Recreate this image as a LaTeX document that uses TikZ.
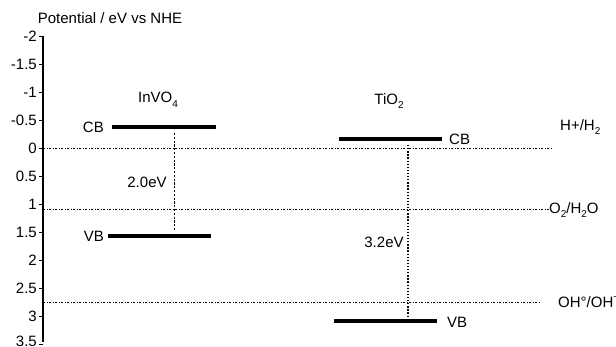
\documentclass[tikz,border=0pt]{standalone}
\usepackage{fontspec}
\setmainfont{Liberation Sans}
\newcommand{\subs}[1]{\raisebox{-0.3em}{\fontsize{10}{11}\selectfont #1}}
\newcommand{\sups}[1]{\raisebox{0.45em}{\fontsize{10}{11}\selectfont #1}}
\begin{document}
\begin{tikzpicture}[x=1pt,y=-1pt,
  font=\fontsize{15}{17}\selectfont,
  band/.style={line width=3.6pt},
  refline/.style={line width=0.8pt, dash pattern=on 2pt off 1.6pt on 0.8pt off 1.6pt},
  gapdash/.style={line width=0.8pt, dash pattern=on 2.2pt off 1.6pt},
  gapdot/.style={line width=1.4pt, dash pattern=on 1.3pt off 1.8pt},
  lbl/.style={inner sep=0pt},
  ticklbl/.style={inner sep=0pt, anchor=east}]
\useasboundingbox (0,0) rectangle (616,346);

% title
\node[lbl] (title) at (110,18) {Potential / eV vs NHE};

% axis
\coordinate (atop) at (43,36);
\coordinate (abot) at (43,342);
\draw[line width=1.2pt] (atop) -- (abot);
\foreach \v/\t [count=\i] in {-2/-2,-1.5/-1.5,-1/-1,-0.5/-0.5,0/0,0.5/0.5,1/1,1.5/1.5,2/2,2.5/2.5,3/3,3.5/3.5}{
  \coordinate (tk\i) at (43,{148+56*\v});
  \draw[line width=1pt] (tk\i) -- ++(-4.5,0);
}
\foreach \v/\t [count=\i] in {-2/-2,-1.5/-1.5,-1/-1,-0.5/-0.5,0/0,0.5/0.5,1/1,1.5/1.5,2/2,2.5/2.5,3/3}{
  \node[ticklbl] (tl\i) at ([xshift=-6pt]tk\i) {\t};
}
\node[ticklbl] (tl12) at ([xshift=-6pt,yshift=3pt]tk12) {3.5};

% reference lines
\coordinate (h0) at (43,148);
\coordinate (h1) at (552,148);
\draw[refline] (h0) -- (h1);
\node[lbl, anchor=west] (hh) at (560,127) {H+/H\subs{2}};

\coordinate (o0) at (43,209);
\node[lbl, anchor=west] (oo) at (549,210) {O\subs{2}/H\subs{2}O};
\draw[refline] (o0) -- (oo.west |- o0);

\coordinate (w0) at (43,302);
\coordinate (w1) at (541,302);
\draw[refline] (w0) -- (w1);
\node[lbl, anchor=west] (ww) at (558,302) {OH\textdegree/OH\sups{\textminus}};

% InVO4
\node[lbl] (inv) at (158,100) {InVO\subs{4}};
\coordinate (icb0) at (112,127);
\coordinate (icb1) at (216,127);
\draw[band] (icb0) -- (icb1);
\node[lbl, anchor=east] (icbl) at (104,127) {CB};
\coordinate (ivb0) at (108,236);
\coordinate (ivb1) at (211,236);
\draw[band] (ivb0) -- (ivb1);
\node[lbl, anchor=east] (ivbl) at (104,236) {VB};
\coordinate (ig0) at (174,133);
\coordinate (ig1) at (174,231);
\draw[gapdash] (ig0) -- (ig1);
\node[lbl] (igl) at (147,182) {2.0eV};

% TiO2
\node[lbl] (tio) at (389,101) {TiO\subs{2}};
\coordinate (tcb0) at (339,139);
\coordinate (tcb1) at (442,139);
\draw[band] (tcb0) -- (tcb1);
\node[lbl, anchor=west] (tcbl) at (449,139) {CB};
\coordinate (tvb0) at (334,321);
\coordinate (tvb1) at (437,321);
\draw[band] (tvb0) -- (tvb1);
\node[lbl, anchor=west] (tvbl) at (447,322) {VB};
\coordinate (tg0) at (408,145);
\coordinate (tg1) at (408,316);
\draw[gapdot] (tg0) -- (tg1);
\node[lbl] (tgl) at (384,242) {3.2eV};
\end{tikzpicture}
\end{document}
